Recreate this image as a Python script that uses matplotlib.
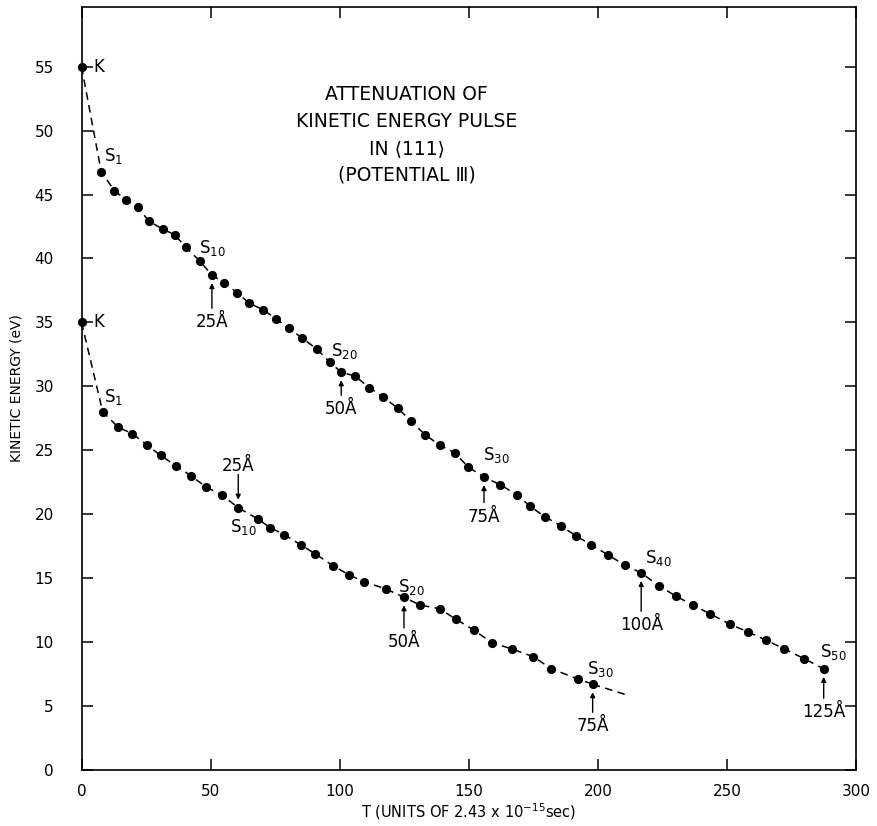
import matplotlib
matplotlib.use("Agg")
from matplotlib import pyplot as plt

plt.rcParams['font.family'] = ['DejaVu Sans']
plt.rcParams['mathtext.default'] = 'regular'

# upper pulse: K then S1 .. S50
upper_t = [0, 7.6, 12.7, 17.2, 21.7, 26.2, 31.4, 36.1, 40.3, 45.8, 50.5,
           55.3, 60.4, 64.9, 70.3, 75.2, 80.2, 85.3, 91.2, 96.1, 100.6,
           106.0, 111.4, 116.6, 122.4, 127.6, 133.1, 138.8, 144.6, 149.7, 155.9,
           162.2, 168.8, 173.9, 179.4, 185.6, 191.5, 197.5, 204.0, 210.6, 216.8,
           223.7, 230.1, 236.8, 243.5, 251.1, 258.0, 265.1, 272.3, 279.9, 287.5]
upper_e = [55.0, 46.8, 45.3, 44.6, 44.0, 42.9, 42.3, 41.85, 40.9, 39.8, 38.7,
           38.1, 37.3, 36.5, 36.0, 35.3, 34.55, 33.8, 32.9, 31.9, 31.1,
           30.8, 29.9, 29.2, 28.3, 27.3, 26.2, 25.4, 24.8, 23.7, 22.9,
           22.3, 21.5, 20.6, 19.8, 19.1, 18.3, 17.6, 16.8, 16.0, 15.4,
           14.4, 13.6, 12.9, 12.2, 11.4, 10.8, 10.15, 9.45, 8.7, 7.9]

# lower pulse: K then S1 .. S30
lower_t = [0, 8.2, 14.2, 19.6, 25.4, 30.6, 36.4, 42.4, 48.4, 54.4, 60.7,
           68.5, 73.0, 78.5, 84.9, 90.5, 97.5, 103.6, 109.6, 117.9, 124.9,
           131.0, 138.7, 144.9, 152.2, 158.9, 166.8, 175.0, 182.0, 192.4, 198.0]
lower_e = [35.0, 28.0, 26.8, 26.3, 25.4, 24.6, 23.8, 23.0, 22.1, 21.5, 20.5,
           19.6, 18.95, 18.4, 17.6, 16.9, 15.95, 15.25, 14.7, 14.15, 13.5,
           12.9, 12.6, 11.8, 10.9, 9.95, 9.45, 8.85, 7.9, 7.1, 6.7]
# dashed continuation past S30
lower_tail_t = [198.0, 210.5]
lower_tail_e = [6.7, 5.9]

x_ticks = [0, 50, 100, 150, 200, 250, 300]
y_ticks = [0, 5, 10, 15, 20, 25, 30, 35, 40, 45, 50, 55]

fig = plt.figure(figsize=(8.77, 8.26), dpi=100)
ax = fig.add_axes([0.093, 0.068, 0.883, 0.924])

ax.plot(upper_t, upper_e, 'k--', lw=1.1, dashes=(5, 3.5), marker='o', ms=5.6, clip_on=False)
ax.plot(lower_t, lower_e, 'k--', lw=1.1, dashes=(5, 3.5), marker='o', ms=5.6, clip_on=False)
ax.plot(lower_tail_t, lower_tail_e, 'k--', lw=1.1, dashes=(5, 3.5))

ax.set_xlim(0, 300)
ax.set_ylim(0, 59.7)
ax.set_xticks(x_ticks)
ax.set_yticks(y_ticks)
ax.tick_params(direction='in', length=8, width=1.1, top=True, right=True,
               labelsize=11)
ax.tick_params(axis='y', pad=20)
ax.tick_params(axis='x', pad=10)
for s in ax.spines.values():
    s.set_linewidth(1.2)

ax.set_xlabel("T (UNITS OF 2.43 x 10$^{-15}$sec)", fontsize=10.5, labelpad=2)
ax.set_ylabel("KINETIC ENERGY (eV)", fontsize=10, labelpad=8)

# title block
title_lines = ["ATTENUATION OF", "KINETIC ENERGY PULSE", "IN ⟨111⟩", "(POTENTIAL Ⅲ)"]
title_y = [52.8, 50.7, 48.6, 46.5]
for txt, ty in zip(title_lines, title_y):
    ax.text(126, ty, txt, ha='center', va='center', fontsize=13.5)

fs = 12
# K markers
ax.text(4.5, 55, "K", fontsize=fs, va='center')
ax.text(4.5, 35, "K", fontsize=fs, va='center')

# step labels, upper
ax.text(12.3, 48.0, "S$_1$", fontsize=fs, ha='center', va='center')
ax.text(50.8, 40.8, "S$_{10}$", fontsize=fs, ha='center', va='center')
ax.text(101.8, 32.8, "S$_{20}$", fontsize=fs, ha='center', va='center')
ax.text(160.8, 24.6, "S$_{30}$", fontsize=fs, ha='center', va='center')
ax.text(223.4, 16.55, "S$_{40}$", fontsize=fs, ha='center', va='center')
ax.text(291.2, 9.25, "S$_{50}$", fontsize=fs, ha='center', va='center')

# step labels, lower
ax.text(12.3, 29.2, "S$_1$", fontsize=fs, ha='center', va='center')
ax.text(62.7, 19.0, "S$_{10}$", fontsize=fs, ha='center', va='center')
ax.text(127.8, 14.3, "S$_{20}$", fontsize=fs, ha='center', va='center')
ax.text(200.8, 7.85, "S$_{30}$", fontsize=fs, ha='center', va='center')

arrow = dict(arrowstyle='-|>', color='k', lw=1.0, mutation_scale=7,
             shrinkA=0, shrinkB=3)
# distance markers (arrow up from label to point)
marks_up = [("25Å", 50.5, 38.7, 35.0), ("50Å", 100.6, 31.1, 28.2),
            ("75Å", 155.9, 22.9, 19.8), ("100Å", 216.8, 15.4, 11.3),
            ("125Å", 287.5, 7.9, 4.5), ("50Å", 124.9, 13.5, 10.0),
            ("75Å", 198.0, 6.7, 3.4)]
for lab, tx, ty, ly in marks_up:
    ax.annotate("", xy=(tx, ty - 0.3), xytext=(tx, ly + 1.1), arrowprops=arrow)
    ax.text(tx, ly, lab, fontsize=fs, ha='center', va='center')

# lower 25 A marker points down
ax.annotate("", xy=(60.7, 20.8), xytext=(60.7, 23.1), arrowprops=arrow)
ax.text(60.7, 23.8, "25Å", fontsize=fs, ha='center', va='center')

fig.savefig("out.png", dpi=100)
